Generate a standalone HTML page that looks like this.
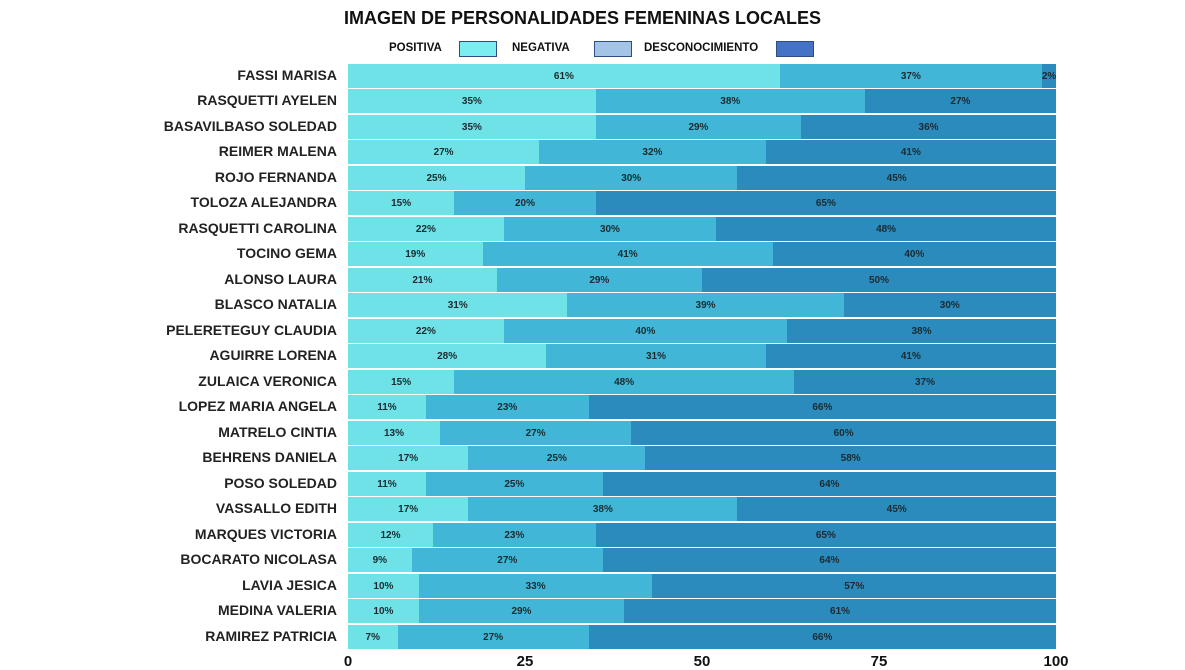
<!DOCTYPE html><html><head><meta charset="utf-8"><style>
body{margin:0;width:1185px;height:670px;background:#fff;font-family:"Liberation Sans",sans-serif;position:relative;overflow:hidden}
.t{position:absolute;left:0;width:1185px;top:8px;text-align:center;font-weight:bold;font-size:18px;color:#111;margin-left:-10px}
.lg{position:absolute;top:42px;font-weight:bold;font-size:11.5px;color:#111}
.sw{position:absolute;top:41px;width:38px;height:16px;border:1px solid #2a4f80;box-sizing:border-box}
.n{position:absolute;right:848px;font-weight:bold;font-size:14px;color:#222;white-space:nowrap}
.s{position:absolute;height:24px;font-weight:bold;font-size:10px;color:#1a2a30;text-align:center;line-height:26px}
.x{position:absolute;top:653px;font-weight:bold;font-size:15px;color:#111;width:40px;margin-left:-20px;text-align:center}
</style></head><body>
<div class="t">IMAGEN DE PERSONALIDADES FEMENINAS LOCALES</div>
<div class="lg" style="left:389px">POSITIVA</div><div class="sw" style="left:459px;background:#7aeef0"></div>
<div class="lg" style="left:512px">NEGATIVA</div><div class="sw" style="left:594px;background:#a4c4e6"></div>
<div class="lg" style="left:644px">DESCONOCIMIENTO</div><div class="sw" style="left:776px;background:#4472c4"></div>
<div id="c"></div>
<div class="x" style="left:348px">0</div><div class="x" style="left:525px">25</div><div class="x" style="left:702px">50</div><div class="x" style="left:879px">75</div><div class="x" style="left:1056px">100</div>
<script>
var d=[["FASSI MARISA",61,37,2],["RASQUETTI AYELEN",35,38,27],["BASAVILBASO SOLEDAD",35,29,36],["REIMER MALENA",27,32,41],["ROJO FERNANDA",25,30,45],["TOLOZA ALEJANDRA",15,20,65],["RASQUETTI CAROLINA",22,30,48],["TOCINO GEMA",19,41,40],["ALONSO LAURA",21,29,50],["BLASCO NATALIA",31,39,30],["PELERETEGUY CLAUDIA",22,40,38],["AGUIRRE LORENA",28,31,41],["ZULAICA VERONICA",15,48,37],["LOPEZ MARIA ANGELA",11,23,66],["MATRELO CINTIA",13,27,60],["BEHRENS DANIELA",17,25,58],["POSO SOLEDAD",11,25,64],["VASSALLO EDITH",17,38,45],["MARQUES VICTORIA",12,23,65],["BOCARATO NICOLASA",9,27,64],["LAVIA JESICA",10,33,57],["MEDINA VALERIA",10,29,61],["RAMIREZ PATRICIA",7,27,66]];
var col=["#6ee2e6","#42b6d6","#2c8bbd"],h="";
d.forEach(function(r,i){var y=64+i*25.48;h+='<div class="n" style="top:'+(y+3)+'px">'+r[0]+'</div>';var x=0;
for(var k=0;k<3;k++){var w=r[k+1];if(k==2)w=100-x;h+='<div class="s" style="top:'+y+'px;left:'+(348+x*7.08)+'px;width:'+(w*7.08)+'px;background:'+col[k]+'">'+r[k+1]+'%</div>';x+=r[k+1];}});
document.getElementById("c").innerHTML=h;
</script></body></html>
